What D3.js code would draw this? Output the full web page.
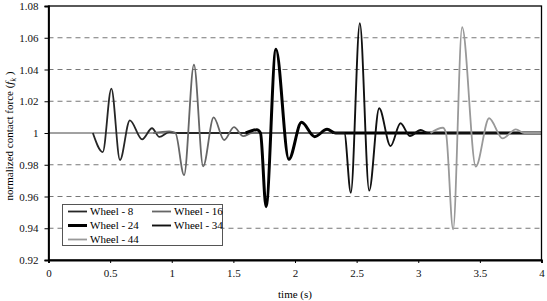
<!DOCTYPE html>
<html>
<head>
<meta charset="utf-8">
<script src="https://cdn.jsdelivr.net/npm/d3@7"></script>
<style>
  body { margin: 0; background: #fff; }
  svg { font-family: "Liberation Serif", "DejaVu Serif", serif; }
</style>
</head>
<body>
<svg id="chart" width="547" height="301"></svg>
<script>
// x ticks (time, s) and y ticks (normalized contact force)
const xTicks = [0, 0.5, 1, 1.5, 2, 2.5, 3, 3.5, 4];
const yTicks = [0.92, 0.94, 0.96, 0.98, 1, 1.02, 1.04, 1.06, 1.08];

// series: times and values at the turning points
const wheel8T  = [0.36, 0.44, 0.51, 0.58, 0.66, 0.76, 0.84, 0.90, 0.98, 1.05, 4.0];
const wheel8V  = [1.0, 0.988, 1.028, 0.983, 1.008, 0.996, 1.003, 0.9975, 1.0005, 1.0, 1.0];
const wheel16T = [0.85, 0.98, 1.03, 1.10, 1.18, 1.255, 1.34, 1.425, 1.505, 1.58, 1.65, 4.0];
const wheel16V = [1.0, 1.001, 1.0, 0.9735, 1.043, 0.979, 1.0098, 0.9956, 1.0037, 0.998, 1.0, 1.0];
const wheel24T = [1.6, 1.69, 1.72, 1.765, 1.845, 1.95, 2.053, 2.16, 2.26, 2.33, 4.0];
const wheel24V = [1.0, 1.002, 1.0, 0.9536, 1.0527, 0.9834, 1.0067, 0.9977, 1.0023, 1.0, 1.0];
const wheel34T = [2.3, 2.40, 2.453, 2.526, 2.602, 2.683, 2.775, 2.856, 2.932, 3.02, 3.08, 4.0];
const wheel34V = [1.0, 1.0, 0.9624, 1.0691, 0.9637, 1.0156, 0.9918, 1.0061, 0.9981, 1.0019, 1.0, 1.0];
const wheel44T = [3.1, 3.2, 3.225, 3.283, 3.356, 3.467, 3.575, 3.684, 3.792, 3.86, 4.0];
const wheel44V = [1.0, 1.0033, 1.0, 0.9393, 1.0666, 0.9788, 1.0093, 0.9966, 1.0023, 1.0, 1.0];

const seriesNames = ["Wheel - 8", "Wheel - 16", "Wheel - 24", "Wheel - 34", "Wheel - 44"];

const series = [
  { name: seriesNames[0], t: wheel8T,  v: wheel8V,  color: "#262626", width: 1.8 },
  { name: seriesNames[1], t: wheel16T, v: wheel16V, color: "#666",    width: 1.8 },
  { name: seriesNames[2], t: wheel24T, v: wheel24V, color: "#000",    width: 3 },
  { name: seriesNames[3], t: wheel34T, v: wheel34V, color: "#111",    width: 1.9 },
  { name: seriesNames[4], t: wheel44T, v: wheel44V, color: "#999",    width: 1.8 }
];

const svg = d3.select("#chart");

const x = d3.scaleLinear().domain([0, 4]).range([48.5, 541.5]);
const y = d3.scaleLinear().domain([0.92, 1.08]).range([260, 6]);

// gridlines (dashed, the one at 1 solid)
svg.append("g")
  .selectAll("line")
  .data(yTicks.filter(d => d > 0.92 && d < 1.08))
  .enter()
  .append("line")
  .attr("x1", x(0)).attr("x2", x(4))
  .attr("y1", d => y(d)).attr("y2", d => y(d))
  .attr("stroke", d => d === 1 ? "#444" : "#777")
  .attr("stroke-width", 1)
  .attr("stroke-dasharray", d => d === 1 ? null : "5,4");

// curves
const line = d3.line()
  .x(d => x(d[0]))
  .y(d => y(d[1]))
  .curve(d3.curveMonotoneX);

svg.append("g")
  .selectAll("path")
  .data(series)
  .enter()
  .append("path")
  .attr("fill", "none")
  .attr("stroke", d => d.color)
  .attr("stroke-width", d => d.width)
  .attr("stroke-linejoin", "round")
  .attr("d", d => line(d.t.map((t, i) => [t, d.v[i]])));

// frame
svg.append("rect")
  .attr("x", x(0)).attr("y", y(1.08))
  .attr("width", x(4) - x(0)).attr("height", y(0.92) - y(1.08))
  .attr("fill", "none").attr("stroke", "#000").attr("stroke-width", 1.3);

// axes
const xAxis = svg.append("g")
  .attr("transform", `translate(0,${y(0.92)})`)
  .call(d3.axisBottom(x).tickValues(xTicks).tickSize(3).tickPadding(6).tickFormat(d3.format("")));
const yAxis = svg.append("g")
  .attr("transform", `translate(${x(0)},0)`)
  .call(d3.axisLeft(y).tickValues(yTicks).tickSize(4).tickPadding(6).tickFormat(d => d === 1 ? "1" : d3.format(".2f")(d)));

[xAxis, yAxis].forEach(a => {
  a.select(".domain").attr("stroke", "#000").attr("stroke-width", 1.8);
  a.selectAll("text").attr("font-size", 11).attr("font-family", "Liberation Serif, serif").attr("fill", "#111");
  a.selectAll(".tick line").attr("stroke", "#000");
});

// axis titles
svg.append("text")
  .attr("x", 295).attr("y", 298)
  .attr("text-anchor", "middle")
  .attr("font-size", 11)
  .text("time (s)");

const yLabel = svg.append("text")
  .attr("transform", "translate(13,136) rotate(-90)")
  .attr("text-anchor", "middle")
  .attr("font-size", 11);
yLabel.append("tspan").text("normalized contact force (");
yLabel.append("tspan").attr("font-style", "italic").text("f");
yLabel.append("tspan").attr("font-size", 8).attr("dy", 3).attr("font-style", "italic").text("k");
yLabel.append("tspan").attr("dy", -3).text(" )");

// legend
const legend = svg.append("g");
legend.append("rect")
  .attr("x", 62.5).attr("y", 204.5).attr("width", 160).attr("height", 41)
  .attr("fill", "#fff").attr("stroke", "#555").attr("stroke-width", 1);

const legendPos = [
  { cx: 68, cy: 211.5 },
  { cx: 152, cy: 211.5 },
  { cx: 68, cy: 225.5 },
  { cx: 152, cy: 225.5 },
  { cx: 68, cy: 239.5 }
];

series.forEach((s, i) => {
  const p = legendPos[i];
  legend.append("line")
    .attr("x1", p.cx).attr("x2", p.cx + 19)
    .attr("y1", p.cy).attr("y2", p.cy)
    .attr("stroke", s.color).attr("stroke-width", s.width);
  legend.append("text")
    .attr("x", p.cx + 22).attr("y", p.cy + 3.8)
    .attr("font-size", 11)
    .text(s.name);
});
</script>
</body>
</html>
